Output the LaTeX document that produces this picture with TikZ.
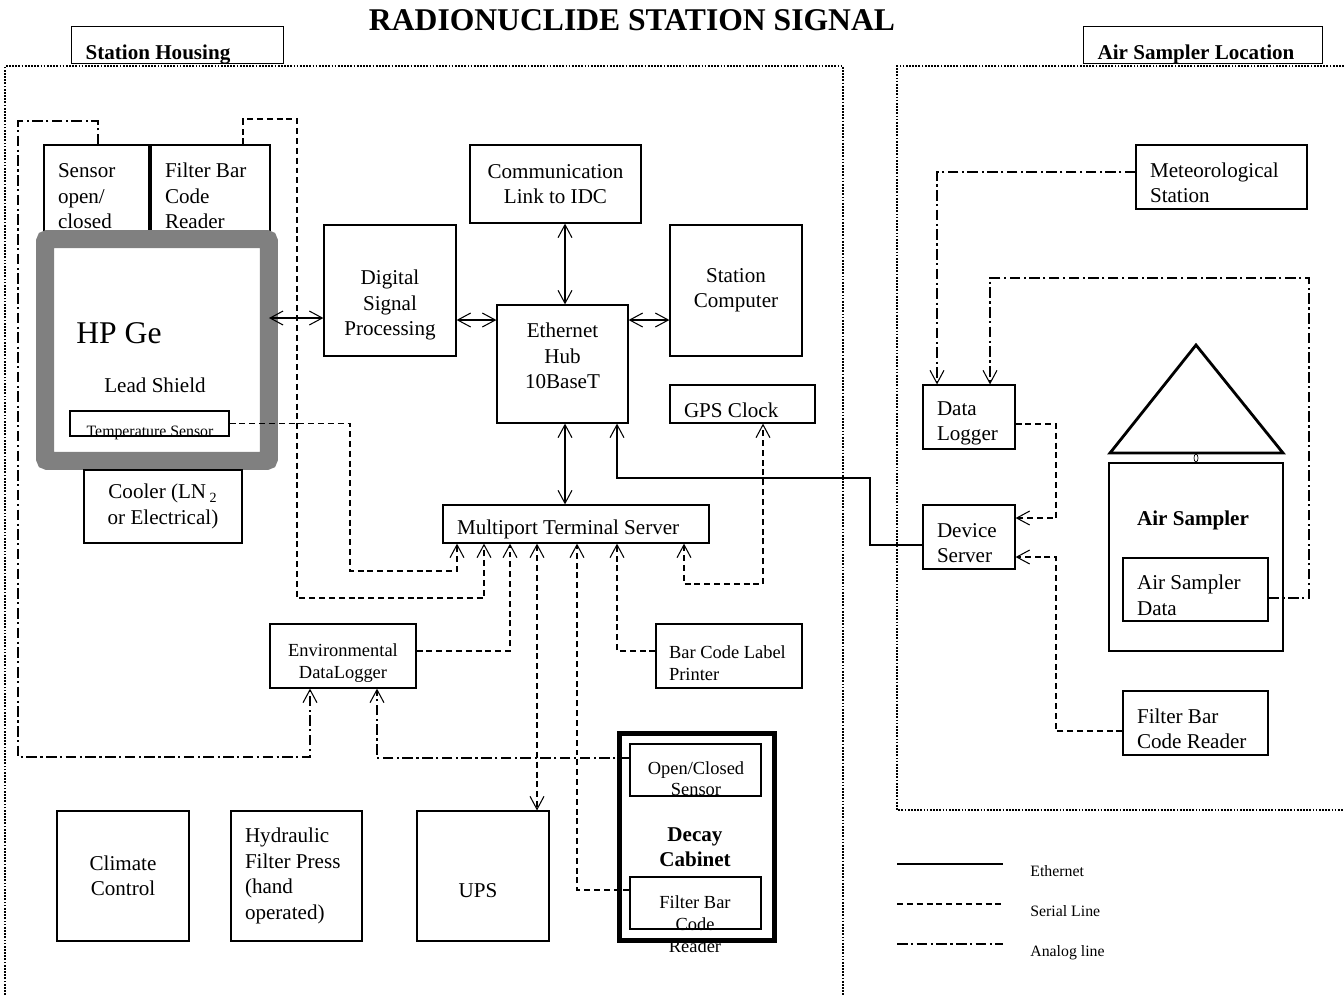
\documentclass[tikz,border=0pt]{standalone}
\usepackage{fontspec}
\setmainfont{Liberation Serif}
\usepackage{tikz}
\usetikzlibrary{arrows.meta}

% top padding strut, pushes box text down a little
\newcommand{\tpad}{\rule{0pt}{15pt}}

\begin{document}
\begin{tikzpicture}[
    x=0.02cm, y=-0.02cm,
    box/.style={draw, line width=0.7pt, fill=white, inner sep=0pt, align=center, font=\fontsize{12}{14.5}\selectfont},
    lbox/.style={box, align=flush left, inner xsep=0.28cm},
    smallbox/.style={box, font=\fontsize{10.5}{12.5}\selectfont},
    tagbox/.style={draw, line width=0.7pt, fill=white, anchor=south west, inner xsep=0.28cm, inner ysep=0.08cm,
                   text height=0.58cm, text depth=0pt, align=flush left, font=\bfseries\fontsize{12}{14.5}\selectfont},
    region/.style={line width=0.9pt, dash pattern=on 1pt off 0.8pt},
    ethernet/.style={line width=0.6pt},
    serial/.style={line width=0.6pt, dash pattern=on 3.4pt off 2.2pt},
    analog/.style={line width=0.6pt, dash pattern=on 6pt off 2pt on 1.2pt off 2pt},
    >={Straight Barb[length=2.6mm, width=2.8mm]}
]
\useasboundingbox (0,0) rectangle (1344,995);

% --- Title and areas ---
\node[font=\bfseries\fontsize{18}{21}\selectfont, anchor=base, inner sep=0pt] (title) at (632,30) {RADIONUCLIDE STATION SIGNAL};
\draw[region] (5,995) -- (5,66) -- (843,66) -- (843,995);
\draw[region] (1344,66) -- (897,66) -- (897,810) -- (1344,810);
\node[tagbox, text width=3.68cm] (housingTag) at (71,64) {Station Housing};
\node[tagbox, text width=4.22cm] (samplerTag) at (1083,64) {Air Sampler Location};

% --- Detector ---
\node[lbox, text width=1.54cm, minimum height=1.8cm] (sensor) at (96.5,190) {\tpad Sensor\\open/\\closed};
\node[lbox, text width=1.82cm, minimum height=1.8cm] (fbcrA) at (210.5,190) {\tpad Filter Bar\\Code\\Reader};
\node[draw=gray, line width=0.36cm, rounded corners=1.5pt, fill=white, outer sep=0pt,
      minimum width=4.48cm, minimum height=4.44cm] (hpge) at (157,350) {};
\node[font=\fontsize{18}{21}\selectfont, anchor=base west, inner sep=0pt] (hpgeTxt) at (76,343) {HP Ge};
\node[font=\fontsize{12}{14.5}\selectfont, anchor=base, inner sep=0pt] (shieldTxt) at (155,392) {Lead Shield};
\node[box, fill=none, minimum width=3.18cm, minimum height=0.5cm] (tsens) at (149.5,423.5) {};
\node[font=\fontsize{9}{11}\selectfont, anchor=base, inner sep=0pt] (tsensTxt) at (150,436) {Temperature Sensor};
\node[box, minimum width=3.16cm, minimum height=1.46cm] (cooler) at (163,506.5) {Cooler (LN\,\textsubscript{2}\\or Electrical)};

% --- Network ---
\node[box, minimum width=2.64cm, minimum height=2.62cm] (dsp) at (390,290.5) {\rule{0pt}{25pt}Digital\\Signal\\Processing};
\node[box, minimum width=3.42cm, minimum height=1.56cm] (comm) at (555.5,184) {Communication\\Link to IDC};
\node[box, minimum width=2.62cm, minimum height=2.36cm] (hub) at (562.5,364) {Ethernet\\Hub\\10BaseT\rule[-9pt]{0pt}{9pt}};
\node[box, minimum width=2.64cm, minimum height=2.62cm] (sc) at (736,290.5) {Station\\Computer};
\node[lbox, text width=2.34cm, minimum height=0.76cm] (gps) at (742.5,404) {\tpad GPS Clock};
\node[lbox, text width=4.76cm, minimum height=0.76cm] (mts) at (576,524) {\tpad Multiport Terminal Server};
\node[smallbox, minimum width=2.92cm, minimum height=1.28cm] (envdl) at (343,656) {\tpad Environmental\\DataLogger};
\node[smallbox, align=flush left, inner xsep=0.26cm, text width=2.4cm, minimum height=1.28cm] (bclp) at (729,656) {\tpad Bar Code Label\\Printer};

% --- Bottom row ---
\node[box, minimum width=2.64cm, minimum height=2.6cm] (climate) at (123,876) {Climate\\Control};
\node[lbox, text width=2.06cm, minimum height=2.6cm] (hydr) at (296.5,876) {Hydraulic\\Filter Press\\(hand\\operated)};
\node[box, minimum width=2.64cm, minimum height=2.6cm] (ups) at (483,876) {\rule{0pt}{24pt}UPS\hspace{0.2cm}};

% --- Decay cabinet ---
\node[draw, line width=0.1cm, fill=white, minimum width=3.12cm, minimum height=4.14cm] (decay) at (697,836.5) {};
\node[font=\bfseries\fontsize{12}{14.5}\selectfont, align=center, inner sep=0pt] (decayTxt) at (695,847) {Decay\\Cabinet};
\node[smallbox, fill=none, minimum width=2.62cm, minimum height=1.04cm] (occs) at (695.5,770) {};
\node[font=\fontsize{10.5}{12}\selectfont, align=center, inner sep=0pt] (occsTxt) at (696,779) {Open/Closed\\Sensor};
\node[smallbox, fill=none, minimum width=2.62cm, minimum height=1.04cm] (dfbcr) at (695.5,903) {};
\node[font=\fontsize{10.5}{12.5}\selectfont, align=center, inner sep=0pt] (dfbcrTxt) at (695,924) {Filter Bar\\Code\\Reader};

% --- Air sampler location ---
\node[lbox, text width=2.86cm, minimum height=1.28cm] (met) at (1221.5,177) {\tpad Meteorological\\Station};
\node[lbox, text width=1.28cm, minimum height=1.28cm] (dlog) at (969,417) {\tpad Data\\Logger};
\node[lbox, text width=1.28cm, minimum height=1.28cm] (dsrv) at (969,537) {\tpad Device\\Server};
\draw[line width=1.6pt] (1196,345) -- (1110,453) -- (1283,453) -- cycle;
\draw[line width=0.4pt] (1196,458) ellipse [x radius=2, y radius=4];
\node[draw, line width=1.6pt, minimum width=3.48cm, minimum height=3.76cm] (asmp) at (1196,557) {};
\node[font=\bfseries\fontsize{12}{14.5}\selectfont, anchor=base, inner sep=0pt] (asmpTxt) at (1193,525) {Air Sampler};
\node[lbox, text width=2.34cm, minimum height=1.26cm] (asd) at (1195.5,589.5) {\tpad Air Sampler\\Data};
\node[lbox, text width=2.34cm, minimum height=1.28cm] (fbcrB) at (1195.5,723) {\tpad Filter Bar\\Code Reader};

% --- Ethernet ---
\draw[ethernet, <->] (hpge.east |- 0,318) -- (dsp.west |- 0,318);
\draw[ethernet, <->] (dsp.east |- 0,320) -- (hub.west |- 0,320);
\draw[ethernet, <->] (hub.east |- 0,320) -- (sc.west |- 0,320);
\draw[ethernet, <->] (565,0 |- comm.south) -- (565,0 |- hub.north);
\draw[ethernet, <->] (565,0 |- hub.south) -- (565,0 |- mts.north);
\draw[ethernet, ->] (dsrv.west |- 0,545) -| (870,478) -| (617,0 |- hub.south);

% --- Serial lines ---
\draw[serial, ->] (tsens.east) -| (350,571) -| (457,0 |- mts.south);
\draw[serial, ->] (243,0 |- fbcrA.north) |- (297,119) |- (484,598) -- (484,0 |- mts.south);
\draw[serial, ->] (envdl.east |- 0,651) -| (510,0 |- mts.south);
\draw[serial, <->] (537,0 |- mts.south) -- (537,0 |- ups.north);
\draw[serial, ->] (dfbcr.west |- 0,890) -| (577,0 |- mts.south);
\draw[serial, ->] (bclp.west |- 0,651) -| (617,0 |- mts.south);
\draw[serial, <->] (684,0 |- mts.south) |- (763,584) -- (763,0 |- gps.south);
\draw[serial, ->] (dlog.east |- 0,424) -| (1056,518) -- (dsrv.east |- 0,518);
\draw[serial, ->] (fbcrB.west |- 0,731) -| (1056,557) -- (dsrv.east |- 0,557);

% --- Analog lines ---
\draw[analog, ->] (98,0 |- sensor.north) |- (18,121) |- (310,757) -- (310,0 |- envdl.south);
\draw[analog, ->] (occs.west |- 0,758) -| (377,0 |- envdl.south);
\draw[analog, ->] (met.west |- 0,172) -| (937,0 |- dlog.north);
\draw[analog, ->] (asd.east |- 0,598) -| (1309,278) -| (990,0 |- dlog.north);

% --- Legend ---
\foreach \yy/\sty/\txt in {864/ethernet/Ethernet, 904/serial/Serial Line, 944/analog/Analog line} {
    \coordinate (leg-\yy-a) at (897,\yy);
    \coordinate (leg-\yy-b) at (1003,\yy);
    \draw[\sty] (leg-\yy-a) -- (leg-\yy-b);
    \node[font=\fontsize{9}{11}\selectfont, anchor=base west, inner sep=0pt] (leg-\yy) at (1030,\yy+12) {\txt};
}

\end{tikzpicture}
\end{document}
